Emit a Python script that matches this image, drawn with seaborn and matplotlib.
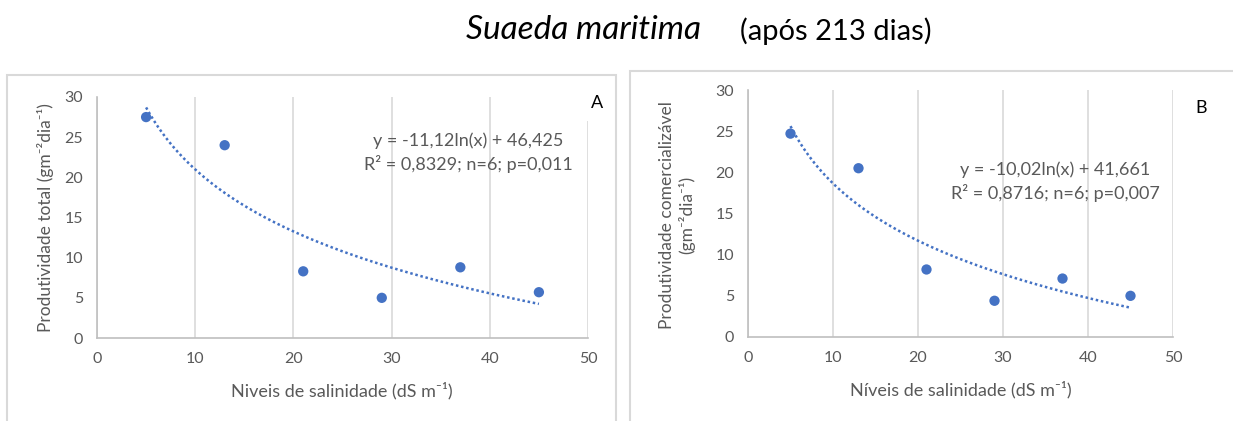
import numpy as np
import pandas as pd
import matplotlib
matplotlib.use("Agg")
import matplotlib.pyplot as plt
from matplotlib.patches import Rectangle
import seaborn as sns

# ---- data ----
salinity = [5, 13, 21, 29, 37, 45]
prod_total = [27.5, 24.0, 8.3, 5.0, 8.8, 5.7]
prod_comercial = [24.7, 20.5, 8.2, 4.4, 7.1, 5.0]
x_ticks = [0, 10, 20, 30, 40, 50]
y_ticks = [0, 5, 10, 15, 20, 25, 30]
eq_a = ["y = -11,12ln(x) + 46,425", "R² = 0,8329; n=6; p=0,011"]
eq_b = ["y = -10,02ln(x) + 41,661", "R² = 0,8716; n=6; p=0,007"]

sns.set_theme(style="white")
plt.rcParams['font.family'] = ['Lato', 'DejaVu Sans']

W, H = 1233, 421
fig = plt.figure(figsize=(W / 100, H / 100), dpi=100)

def fx(px):
    return px / W

def fy(py):
    return 1 - py / H

# panel frames
fig.patches.append(Rectangle((fx(7), fy(440)), fx(616) - fx(7), fy(75) - fy(440),
                             transform=fig.transFigure, fill=False, edgecolor='#d9d9d9', lw=1.5))
fig.patches.append(Rectangle((fx(630), fy(440)), fx(1260) - fx(630), fy(71) - fy(440),
                             transform=fig.transFigure, fill=False, edgecolor='#d9d9d9', lw=1.5))

blue = '#4472C4'
grey_txt = '#595959'

def make_axes(l, r, t, b):
    return fig.add_axes([fx(l), fy(b), fx(r) - fx(l), fy(t) - fy(b)])

axA = make_axes(97, 588, 97, 338)
axB = make_axes(748, 1173, 90, 337)

for ax, yvals in [(axA, prod_total), (axB, prod_comercial)]:
    df = pd.DataFrame({"x": salinity, "y": yvals})
    sns.regplot(data=df, x="x", y="y", ax=ax, logx=True, ci=None, truncate=True,
                scatter_kws=dict(s=55, color=blue, edgecolor='none', alpha=1, zorder=3),
                line_kws=dict(color=blue, lw=1.8, linestyle=(0, (1, 1.1)), zorder=2))
    ax.set_xlim(0, 50)
    ax.set_ylim(0, 30)
    ax.set_xticks(x_ticks)
    ax.set_yticks(y_ticks)
    ax.tick_params(axis='both', length=0, labelsize=11.5, labelcolor=grey_txt, pad=10)
    ax.grid(axis='x', color='#d9d9d9', lw=1.2)
    ax.grid(axis='y', visible=False)
    for s in ['top', 'right']:
        ax.spines[s].set_visible(False)
    for s in ['left', 'bottom']:
        ax.spines[s].set_color('#bfbfbf')
        ax.spines[s].set_linewidth(1.2)
    ax.set_xlabel("")
    ax.set_ylabel("")

# panel letters ("A" box hides the top of the last gridline, as in the reference)
fig.text(fx(597), fy(103), "A", ha='center', va='center', fontsize=13, color='black',
         bbox=dict(facecolor='white', edgecolor='none', pad=7), zorder=5)
fig.text(fx(1201), fy(108), "B", ha='center', va='center', fontsize=13, color='black')

# axis labels
fig.text(fx(342), fy(391), "Niveis de salinidade (dS m⁻¹)", ha='center', va='center',
         fontsize=13, color=grey_txt)
fig.text(fx(961), fy(390), "Níveis de salinidade (dS m⁻¹)", ha='center', va='center',
         fontsize=13, color=grey_txt)
fig.text(fx(46), fy(218), "Produtividade total (gm⁻²dia⁻¹)", rotation=90,
         ha='center', va='center', fontsize=12.5, color=grey_txt)
fig.text(fx(677), fy(215), "Produtividade comercializável\n(gm⁻²dia⁻¹)", rotation=90,
         ha='center', va='center', fontsize=12.5, color=grey_txt, linespacing=1.2)

# equations
fig.text(fx(468), fy(141), eq_a[0], ha='center', va='center', fontsize=13, color=grey_txt)
fig.text(fx(468), fy(164), eq_a[1], ha='center', va='center', fontsize=13, color=grey_txt)
fig.text(fx(1055), fy(170), eq_b[0], ha='center', va='center', fontsize=13, color=grey_txt)
fig.text(fx(1055), fy(193), eq_b[1], ha='center', va='center', fontsize=13, color=grey_txt)

# title
fig.text(fx(583), fy(30), "Suaeda maritima", ha='center', va='center', fontsize=24,
         style='italic', color='black')
fig.text(fx(740), fy(31), "(após 213 dias)", ha='left', va='center', fontsize=21, color='black')

fig.savefig("out.png", dpi=100)
